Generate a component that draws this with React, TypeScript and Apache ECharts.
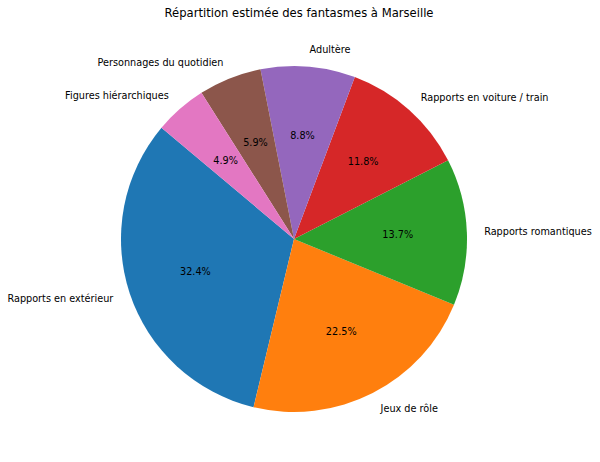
import React, { useEffect, useRef } from "react";
import * as echarts from "echarts";

const categories = [
  "Rapports en extérieur",
  "Jeux de rôle",
  "Rapports romantiques",
  "Rapports en voiture / train",
  "Adultère",
  "Personnages du quotidien",
  "Figures hiérarchiques",
];
const values = [33, 23, 14, 12, 9, 6, 5];
const colors = ["#1f77b4", "#ff7f0e", "#2ca02c", "#d62728", "#9467bd", "#8c564b", "#e377c2"];
const title = "Répartition estimée des fantasmes à Marseille";

export default function App() {
  const ref = useRef<HTMLDivElement>(null);
  useEffect(() => {
    if (!ref.current) return;
    const chart = echarts.init(ref.current, null, { renderer: "svg" });
    const total = values.reduce((a, b) => a + b, 0);
    const R = 173;
    const center = [294, 239];
    const font = "DejaVu Sans";
    const data = categories.map((c, i) => ({ name: c, value: values[i], itemStyle: { color: colors[i] } }));
    chart.setOption({
      animation: false,
      backgroundColor: "#ffffff",
      title: {
        text: title,
        left: 294,
        textAlign: "center",
        top: 2,
        textStyle: { fontFamily: font, fontSize: 11.6, fontWeight: "normal", color: "#000" },
      },
      series: [
        {
          type: "pie",
          center,
          radius: [0, R],
          startAngle: 140,
          clockwise: false,
          avoidLabelOverlap: false,
          silent: true,
          data,
          itemStyle: { borderWidth: 0 },
          label: {
            show: true,
            position: "outside",
            formatter: "{b}",
            fontFamily: font,
            fontSize: 9.7,
            color: "#000",
            distanceToLabelLine: 0,
          },
          labelLine: { show: false, length: R * 0.1, length2: 0 },
        },
        {
          type: "pie",
          center,
          radius: [0, 2 * (0.6 * R - 3)],
          startAngle: 140,
          clockwise: false,
          avoidLabelOverlap: false,
          silent: true,
          data: categories.map((c, i) => ({ name: c, value: values[i] })),
          itemStyle: { color: "rgba(0,0,0,0)", borderWidth: 0 },
          label: {
            show: true,
            position: "inside",
            formatter: (p: any) => ((values[p.dataIndex] / total) * 100).toFixed(1) + "%",
            fontFamily: font,
            fontSize: 9.7,
            color: "#000",
          },
          labelLine: { show: false },
        },
      ],
    });
    return () => chart.dispose();
  }, []);
  return (
    <div
      ref={ref}
      style={{ position: "fixed", left: 0, top: 0, width: 600, height: 462, background: "#fff" }}
    />
  );
}
